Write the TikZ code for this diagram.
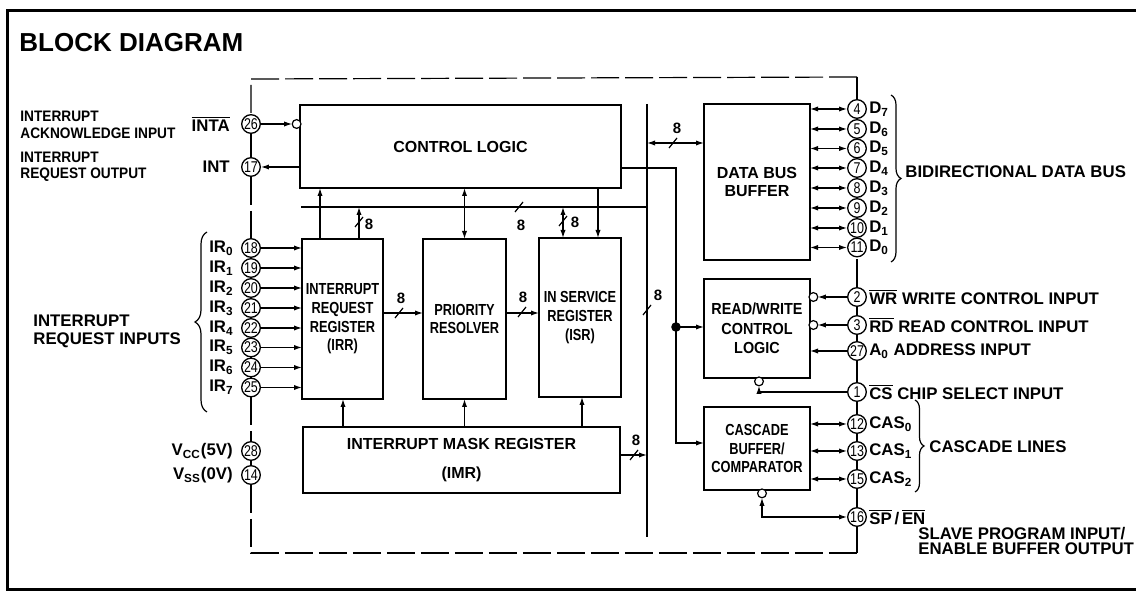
\documentclass[tikz,border=0pt]{standalone}
\usepackage{fontspec}
\setmainfont{Liberation Sans}
\newfontfamily\cond[FakeStretch=0.8]{Liberation Sans}
\newfontfamily\semic[FakeStretch=0.9]{Liberation Sans}
\usetikzlibrary{arrows.meta,calc,decorations.pathreplacing}
\newcommand{\ovl}[1]{\ensuremath{\overline{\mbox{#1}}}}
\newcommand{\fb}{\bfseries\fontsize{8}{9.3}\selectfont}
\newcommand{\fc}{\cond\bfseries\fontsize{8}{9.3}\selectfont}
\newcommand{\fs}{\semic\bfseries\fontsize{8}{9.8}\selectfont}
\tikzset{
  box/.style={draw, line width=1.4pt, inner sep=0pt, outer sep=0pt, align=center},
  thin/.style={line width=0.6pt},
  dline/.style={line width=0.6pt, dash pattern=on 14pt off 3pt},
  arr/.style={line width=0.6pt, -{Latex[length=4pt,width=2.6pt]}},
  darr/.style={line width=0.6pt, {Latex[length=4pt,width=2.6pt]}-{Latex[length=4pt,width=2.6pt]}},
  pin/.style={circle, draw, line width=0.65pt, fill=white, inner sep=0pt, minimum size=9.3pt, font=\cond\fontsize{7.8}{7.8}\selectfont},
  bub/.style={circle, draw, line width=0.6pt, fill=white, inner sep=0pt, outer sep=0pt, minimum size=4.4pt},
  lbl/.style={font=\bfseries\fontsize{8.4}{9}\selectfont, inner sep=0pt},
  clbl/.style={font=\semic\bfseries\fontsize{7.6}{8.2}\selectfont, inner sep=0pt, align=left},
  eight/.style={font=\bfseries\fontsize{7.5}{8}\selectfont, inner sep=0pt},
  brc/.style={line width=0.6pt, decorate},
  slash/.pic={\draw[line width=0.6pt] (-4,5) -- (4,-5);}
}
\begin{document}
\begin{tikzpicture}[x=0.5pt,y=-0.5pt]
\useasboundingbox (0,0) rectangle (1136,592);
% frame
\draw[line width=1.5pt] (1136,11) -- (7,11) -- (7,590) -- (1136,590);
\node[anchor=west, inner sep=0pt, font=\bfseries\fontsize{13}{14}\selectfont] (title) at (19,43) {BLOCK DIAGRAM};

% blocks
\node[box, minimum width=160.5pt, minimum height=41.5pt, font=\fb] (cl) at (460.5,146.5) {CONTROL LOGIC};
\node[box, minimum width=40.5pt, minimum height=80pt, font=\fc] (irr) at (342.5,319) {INTERRUPT\\REQUEST\\REGISTER\\(IRR)};
\node[box, minimum width=41.5pt, minimum height=80pt, font=\fc] (pr) at (464.5,319) {PRIORITY\\RESOLVER};
\node[box, minimum width=41pt, minimum height=79.5pt, font=\fc] (isr) at (580,317.5) {IN SERVICE\\REGISTER\\(ISR)};
\node[box, minimum width=158.5pt, minimum height=33pt, font=\fb] (imr) at (461.5,460) {INTERRUPT MASK REGISTER\\[5.5pt](IMR)};
\node[box, minimum width=53pt, minimum height=78pt, font=\fb] (dbb) at (757,182) {DATA BUS\\BUFFER};
\node[box, minimum width=53pt, minimum height=49.5pt, font=\fs] (rw) at (757,328.5) {READ/WRITE\\CONTROL\\LOGIC};
\node[box, minimum width=53pt, minimum height=41.5pt, font=\fc] (cas) at (757,448.5) {CASCADE\\BUFFER/\\COMPARATOR};

% pins
\foreach \n/\y in {26/124,17/167,18/248,19/268,20/288,21/308,22/328,23/347.5,24/367.5,25/387.5,28/451,14/475}
  \node[pin] (p\n) at (251,\y) {\n};
\foreach \n/\y in {4/109,5/129,6/148.5,7/168,8/188,9/208,10/228,11/247.5,2/297,3/325,27/351,1/392,12/424,13/451,15/479,16/517}
  \node[pin] (p\n) at (857,\y) {\n};

% chip outline
\coordinate (tl) at (251,79);
\coordinate (tr) at (857,77);
\coordinate (bl) at (251,553);
\coordinate (br) at (857,553);
\draw[dline] (tr) -- (tl) -- (p26);
\draw[thin] (p26) -- (p17);
\draw[dline] (p17) -- (p18);
\foreach \a/\b in {18/19,19/20,20/21,21/22,22/23,23/24,24/25} \draw[thin] (p\a) -- (p\b);
\draw[dline] (p25) -- (p28);
\draw[thin] (p28) -- (p14);
\draw[dline] (p14) -- (bl) -- (br);
\draw[thin] (br) -- (p16);
\foreach \a/\b in {16/15,15/13,13/12,12/1,1/27,27/3,3/2} \draw[thin] (p\a) -- (p\b);
\draw[dline] (p2) -- (p11);
\foreach \a/\b in {11/10,10/9,9/8,8/7,7/6,6/5,5/4} \draw[thin] (p\a) -- (p\b);
\draw[thin] (p4) -- (tr);

% internal buses
\coordinate (vbT) at (647,104);
\coordinate (vbB) at (647,537);
\draw[thin] (vbT) -- (vbB);
\coordinate (hbL) at (301,207);
\coordinate (hbR) at (647,207);
\draw[thin] (hbL) -- (hbR);

\coordinate (x1) at (320,0);
\coordinate (x2) at (359,0);
\coordinate (x3) at (563,0);
\coordinate (x4) at (598,0);
\coordinate (x5) at (343,0);
\coordinate (x7) at (582,0);
\coordinate (x8) at (759,0);
\coordinate (x9) at (762,0);
\coordinate (y1) at (0,313);
\coordinate (y2) at (0,455);
\coordinate (y3) at (0,143);

\draw[arr] (x1 |- irr.north) -- (x1 |- cl.south);
\draw[arr] (x2 |- irr.north) -- (x2 |- hbL);
\draw[darr] (pr.north) -- (pr.north |- cl.south);
\draw[darr] (x3 |- hbL) -- (x3 |- isr.north);
\draw[arr] (x4 |- cl.south) -- (x4 |- isr.north);
\draw[arr] (irr.east |- y1) -- (pr.west |- y1);
\draw[arr] (pr.east |- y1) -- (isr.west |- y1);
\draw[arr] (x5 |- imr.north) -- (x5 |- irr.south);
\draw[arr] (pr.south |- imr.north) -- (pr.south);
\draw[arr] (x7 |- imr.north) -- (x7 |- isr.south);
\draw[arr] (imr.east |- y2) -- (vbT |- y2);
\draw[darr] (vbT |- y3) -- (dbb.west |- y3);

\coordinate (v1) at (676,168);
\coordinate (v2) at (676,327);
\coordinate (v3) at (676,443);
\draw[arr] (cl.east |- v1) -- (v1) -- (v3) -- (cas.west |- v3);
\fill (v2) circle (2.4pt);
\draw[arr] (v2) -- (rw.west |- v2);

% bus width marks
\pic at (519,207) {slash}; \node[eight] (e1) at (521,225) {8};
\pic at (359,222) {slash}; \node[eight] (e2) at (369,224) {8};
\pic at (563,221) {slash}; \node[eight] (e3) at (575,222) {8};
\pic at (399,313) {slash}; \node[eight] (e4) at (401,298) {8};
\pic at (522,312) {slash}; \node[eight] (e5) at (523,297) {8};
\pic at (647,310) {slash}; \node[eight] (e6) at (658,295) {8};
\pic at (673,143) {slash}; \node[eight] (e7) at (677,128) {8};
\pic at (634,455) {slash}; \node[eight] (e8) at (636,440) {8};

% left pin connections
\node[bub, anchor=east] (b26) at ($(cl.west |- p26)+(1,0)$) {};
\draw[arr] (p26) -- (b26);
\draw[arr] (cl.west |- p17) -- (p17);
\foreach \n in {18,...,25} \draw[arr] (p\n) -- (irr.west |- p\n);

% right pin connections
\foreach \n in {4,...,11} \draw[darr] (dbb.east |- p\n) -- (p\n);
\node[bub, anchor=west] (b2) at ($(rw.east |- p2)+(-1,0)$) {};
\draw[arr] (p2) -- (b2);
\node[bub, anchor=west] (b3) at ($(rw.east |- p3)+(-1,0)$) {};
\draw[arr] (p3) -- (b3);
\draw[arr] (p27) -- (rw.east |- p27);
\node[bub, anchor=north] (b1) at ($(x8 |- rw.south)+(0,-1)$) {};
\draw[arr] (p1) -| (b1);
\foreach \n in {12,13,15} \draw[darr] (cas.east |- p\n) -- (p\n);
\node[bub, anchor=north] (b16) at ($(x9 |- cas.south)+(0,-1)$) {};
\draw[darr] (b16) |- (p16);

% left labels
\node[clbl, anchor=west] (t1) at (20,125) {INTERRUPT\\ACKNOWLEDGE INPUT};
\node[clbl, anchor=west] (t2) at (20,166.5) {INTERRUPT\\REQUEST OUTPUT};
\node[lbl, anchor=east] (t3) at ($(p26.west)+(-11,0)$) {\ovl{INTA}};
\node[lbl, anchor=east] (t4) at ($(p17.west)+(-11,0)$) {INT};
\node[lbl, anchor=west, align=left, font=\bfseries\fontsize{8.4}{9}\selectfont] (t5) at (33,331) {INTERRUPT\\REQUEST INPUTS};
\foreach \n/\k in {18/0,19/1,20/2,21/3,22/4,23/5,24/6,25/7}
  \node[lbl, anchor=east] (ir\k) at ($(p\n.west)+(-7,0)$) {IR\textsubscript{\k}};
\node[lbl, anchor=east] (vcc) at ($(p28.west)+(-8,0)$) {V\textsubscript{CC}(5V)};
\node[lbl, anchor=east] (vss) at ($(p14.west)+(-8,0)$) {V\textsubscript{SS}(0V)};
\draw[brc, decoration={brace, amplitude=6pt}] (207,412) -- (207,232);

% right labels
\foreach \n/\k in {4/7,5/6,6/5,7/4,8/3,9/2,10/1,11/0}
  \node[lbl, anchor=west] (d\k) at ($(p\n.east)+(2,0)$) {D\textsubscript{\k}};
\draw[brc, decoration={brace, amplitude=5pt}] (891,95) -- (891,262);
\node[lbl, anchor=west] (bdb) at (905,172) {BIDIRECTIONAL DATA BUS};
\node[lbl, anchor=west] (l2) at ($(p2.east)+(2,0)$) {\ovl{WR} WRITE CONTROL INPUT};
\node[lbl, anchor=west] (l3) at ($(p3.east)+(2,0)$) {\ovl{RD} READ CONTROL INPUT};
\node[lbl, anchor=west] (l27) at ($(p27.east)+(2,0)$) {A\textsubscript{0} ADDRESS INPUT};
\node[lbl, anchor=west] (l1) at ($(p1.east)+(2,0)$) {\ovl{CS} CHIP SELECT INPUT};
\foreach \n/\k in {12/0,13/1,15/2}
  \node[lbl, anchor=west] (c\k) at ($(p\n.east)+(2,0)$) {CAS\textsubscript{\k}};
\draw[brc, decoration={brace, amplitude=4.5pt}] (915,400) -- (915,492);
\node[lbl, anchor=west] (cl2) at (929,447) {CASCADE LINES};
\node[lbl, anchor=west] (l16) at ($(p16.east)+(2,0)$) {\ovl{SP}\,/\,\ovl{EN}};
\node[lbl, anchor=west, align=left, font=\bfseries\fontsize{8.4}{7.6}\selectfont] (sp) at (918,541) {SLAVE PROGRAM INPUT/\\ENABLE BUFFER OUTPUT};
\end{tikzpicture}
\end{document}
